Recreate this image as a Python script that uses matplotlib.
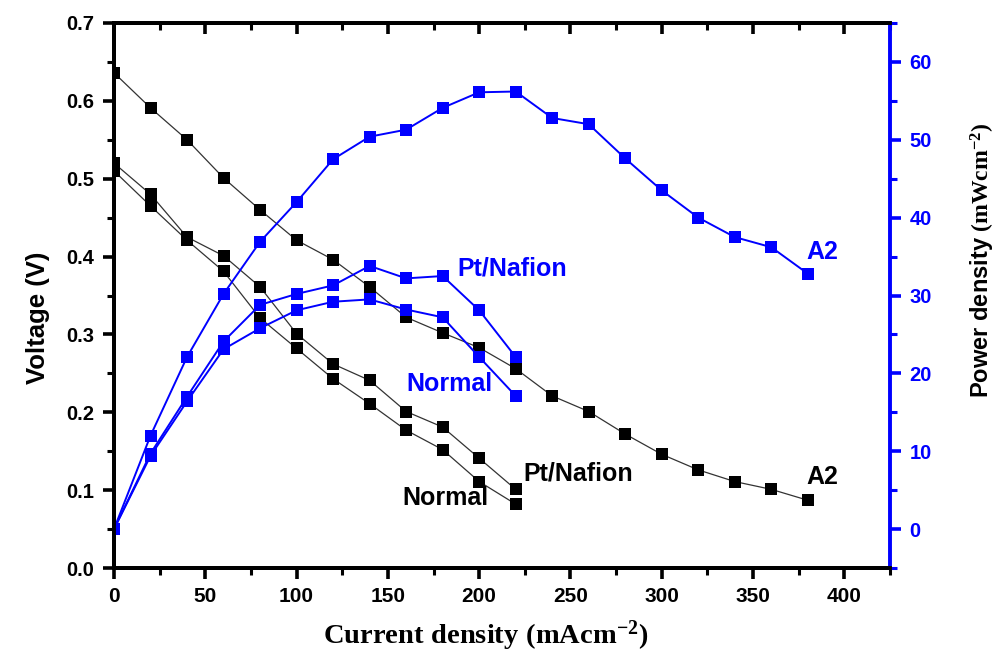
import matplotlib
matplotlib.use("Agg")
import matplotlib.pyplot as plt
from matplotlib.ticker import MultipleLocator

plt.rcParams['mathtext.fontset'] = 'custom'
plt.rcParams['mathtext.rm'] = 'Liberation Serif:bold'
plt.rcParams['mathtext.it'] = 'Liberation Serif:bold'
plt.rcParams['mathtext.bf'] = 'Liberation Serif:bold'
plt.rcParams['mathtext.sf'] = 'Liberation Sans:bold'

# ---- data ----
current_a2 = [0, 20, 40, 60, 80, 100, 120, 140, 160, 180, 200, 220, 240, 260, 280, 300, 320, 340, 360, 380]
voltage_a2 = [0.636, 0.591, 0.550, 0.501, 0.460, 0.421, 0.396, 0.361, 0.322, 0.302, 0.283, 0.256,
              0.221, 0.201, 0.172, 0.146, 0.126, 0.111, 0.101, 0.087]
power_a2 = [0.0, 12.0, 22.1, 30.2, 36.9, 42.0, 47.5, 50.4, 51.3, 54.1, 56.1, 56.2,
            52.8, 52.0, 47.6, 43.5, 40.0, 37.5, 36.2, 32.8]

current_short = [0, 20, 40, 60, 80, 100, 120, 140, 160, 180, 200, 220]
voltage_pt = [0.52, 0.480, 0.425, 0.401, 0.361, 0.301, 0.262, 0.241, 0.201, 0.181, 0.141, 0.101]
voltage_normal = [0.51, 0.465, 0.421, 0.381, 0.321, 0.282, 0.243, 0.211, 0.177, 0.152, 0.111, 0.082]
power_pt = [0.0, 9.7, 17.0, 24.1, 28.8, 30.2, 31.3, 33.8, 32.2, 32.5, 28.1, 22.1]
power_normal = [0.0, 9.4, 16.4, 23.1, 25.8, 28.1, 29.2, 29.5, 28.2, 27.2, 22.1, 17.1]

x_ticks = [0, 50, 100, 150, 200, 250, 300, 350, 400]
v_ticks = [0.0, 0.1, 0.2, 0.3, 0.4, 0.5, 0.6, 0.7]
p_ticks = [0, 10, 20, 30, 40, 50, 60]

BLUE = '#0000ff'
SANS = 'Liberation Sans'

fig = plt.figure(figsize=(10.04, 6.64), dpi=100)
ax = fig.add_axes([114/1004, 1 - 568/664, (890-114)/1004, (568-23)/664])
ax2 = ax.twinx()

mk = dict(marker='s', markersize=8.5, markeredgewidth=0)
ax.plot(current_a2, voltage_a2, color='#333333', lw=0.9, markerfacecolor='black', **mk)
ax.plot(current_short, voltage_pt, color='#333333', lw=0.9, markerfacecolor='black', **mk)
ax.plot(current_short, voltage_normal, color='#333333', lw=0.9, markerfacecolor='black', **mk)

ax2.plot(current_a2, power_a2, color=BLUE, lw=1.4, markerfacecolor=BLUE, **mk)
ax2.plot(current_short, power_pt, color=BLUE, lw=1.4, markerfacecolor=BLUE, **mk)
ax2.plot(current_short, power_normal, color=BLUE, lw=1.4, markerfacecolor=BLUE, **mk)

ax.set_xlim(0, 425)
ax.set_ylim(0, 0.7)
ax2.set_ylim(-5, 65)

ax.set_xticks(x_ticks)
ax.set_yticks(v_ticks)
ax2.set_yticks(p_ticks)
ax.xaxis.set_minor_locator(MultipleLocator(25))
ax.yaxis.set_minor_locator(MultipleLocator(0.05))
ax2.yaxis.set_minor_locator(MultipleLocator(5))

ax.set_xticklabels([str(v) for v in x_ticks])
ax.set_yticklabels([f"{v:.1f}" for v in v_ticks])
ax2.set_yticklabels([str(v) for v in p_ticks])

for s in ['left', 'top', 'bottom']:
    ax.spines[s].set_linewidth(2.8)
    ax2.spines[s].set_linewidth(2.8)
ax2.spines['right'].set_linewidth(2.8)
ax2.spines['right'].set_color(BLUE)
ax.spines['right'].set_visible(False)

ax.tick_params(axis='x', which='major', direction='out', length=8, width=2.6, top=False,
               labelsize=15, pad=6)
ax.tick_params(axis='x', which='minor', direction='out', length=5, width=2.2, top=False)
ax.tick_params(axis='y', which='major', direction='out', length=8, width=2.6, labelsize=14.5, pad=6)
ax.tick_params(axis='y', which='minor', direction='out', length=5, width=2.2)
ax2.tick_params(axis='y', which='major', direction='out', length=8, width=2.6, color=BLUE,
                labelcolor=BLUE, labelsize=14.5, pad=6)
ax2.tick_params(axis='y', which='minor', direction='out', length=5, width=2.2, color=BLUE)

for lab in ax.get_yticklabels() + ax2.get_yticklabels() + ax.get_xticklabels():
    lab.set_fontfamily(SANS)
    lab.set_fontweight('bold')

# top spine: inward ticks
ax_top = ax.secondary_xaxis('top')
ax_top.set_xticks(x_ticks)
ax_top.xaxis.set_minor_locator(MultipleLocator(25))
ax_top.tick_params(axis='x', which='major', direction='in', length=8, width=2.6, labeltop=False)
ax_top.tick_params(axis='x', which='minor', direction='in', length=5, width=2.2)
ax_top.spines['top'].set_linewidth(2.8)

ax.set_xlabel(r'$\mathrm{Current\ density\ (mAcm^{-2})}$', fontsize=20.5)
ax.xaxis.set_label_coords(0.479, -0.092)
ax.set_ylabel('Voltage (V)', fontfamily=SANS, fontweight='bold', fontsize=18.5)
ax.yaxis.set_label_coords(-0.083, 0.459)
ax2.set_ylabel(r'$\mathsf{Power\ density}\ \mathrm{(mWcm^{-2})}$', fontsize=17)
ax2.yaxis.set_label_coords(1.102, 0.565)

tkw = dict(fontfamily=SANS, fontweight='bold', fontsize=18, va='center', ha='left')
ax.text(188, 0.385, 'Pt/Nafion', color=BLUE, **tkw)
ax.text(379, 0.4065, 'A2', color=BLUE, **tkw)
ax.text(160, 0.236, 'Normal', color=BLUE, **tkw)
ax.text(224, 0.121, 'Pt/Nafion', color='black', **tkw)
ax.text(158, 0.090, 'Normal', color='black', **tkw)
ax.text(379, 0.1175, 'A2', color='black', **tkw)

fig.savefig('out.png', dpi=100)
